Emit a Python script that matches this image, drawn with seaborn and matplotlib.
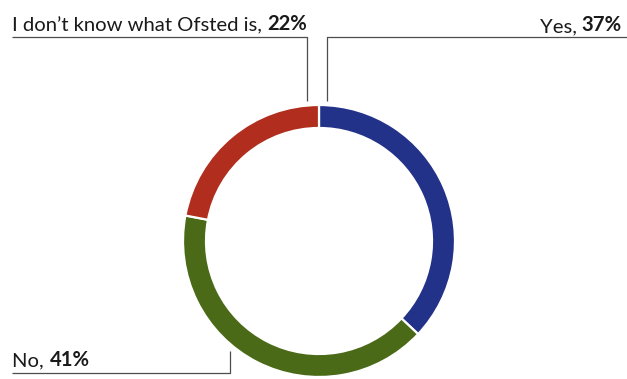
import matplotlib
matplotlib.use("Agg")
import matplotlib.pyplot as plt
import seaborn as sns

# survey answers, clockwise from the top
answers = ["Yes", "No", "I don\u2019t know what Ofsted is"]
shares = [37, 41, 22]
colors = ["#233289", "#4a6a18", "#b12e1e"]

sns.set_style("white")
plt.rcParams["font.family"] = ["Lato", "DejaVu Sans"]

W, H = 627, 379
fig = plt.figure(figsize=(W / 100, H / 100), dpi=100)
ax = fig.add_axes([0, 0, 1, 1])

# y axis is flipped below, so start at -90 and go counterclockwise in data
# to get a ring that starts at 12 o'clock and runs clockwise on screen
ax.pie(shares, colors=colors, startangle=-90, counterclock=True,
       center=(319, 241), radius=136,
       wedgeprops=dict(width=23, edgecolor="white", linewidth=1.6))
ax.set_xlim(0, W)
ax.set_ylim(H, 0)
ax.set_aspect("equal")
ax.axis("off")

line_kw = dict(color="#4d4d4d", lw=0.9, solid_capstyle="butt")
ax.plot([12, 307, 307], [37, 37, 101], **line_kw)
ax.plot([327, 327, W], [101, 37, 37], **line_kw)
ax.plot([230, 230, 12], [351, 373, 373], **line_kw)

fs = 14.6
txt_color = "#1a1a1a"


def left_label(x, y, name, pct):
    t = ax.text(x, y, name + ", ", fontsize=fs, color=txt_color,
                ha="left", va="baseline")
    ax.annotate(f"{pct}%", xy=(1, 0), xycoords=t, fontsize=fs,
                fontweight="bold", color=txt_color, ha="left", va="bottom")


def right_label(x, y, name, pct):
    b = ax.text(x, y, f"{pct}%", fontsize=fs, fontweight="bold",
                color=txt_color, ha="right", va="baseline")
    ax.annotate(name + ", ", xy=(0, 0), xycoords=b, fontsize=fs,
                color=txt_color, ha="right", va="bottom")


right_label(622, 31, answers[0], shares[0])
left_label(12.5, 366.5, answers[1], shares[1])
left_label(12.5, 31, answers[2], shares[2])

fig.savefig("out.png", dpi=100, facecolor="white")
